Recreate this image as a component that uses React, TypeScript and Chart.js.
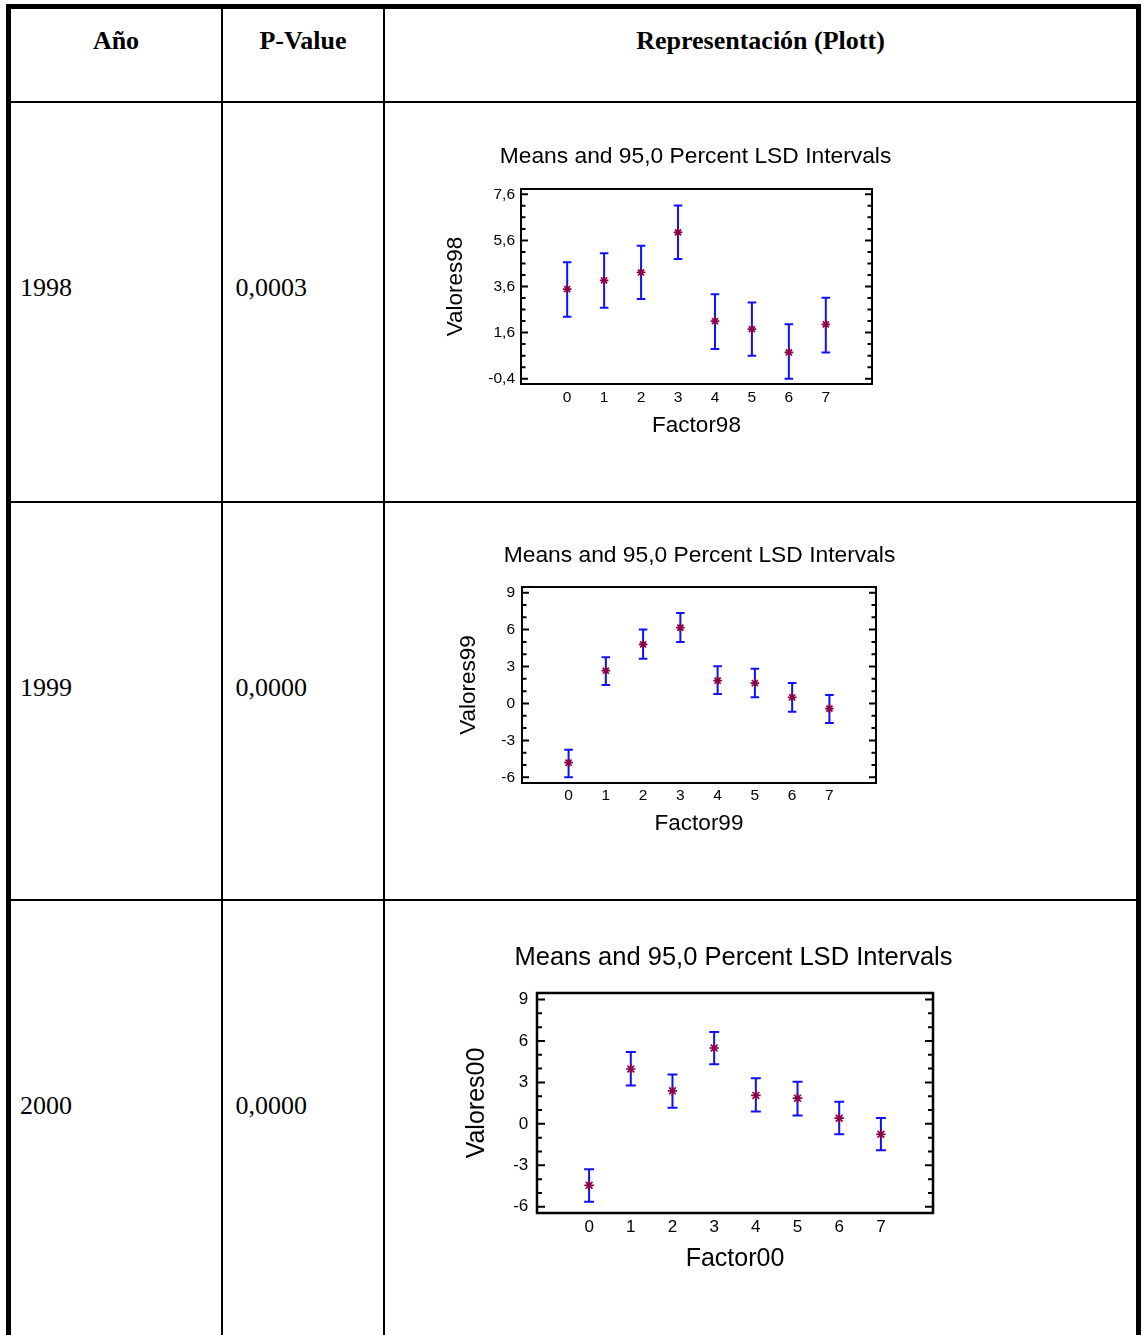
import React, { useEffect, useRef } from "react";
import { Chart, registerables } from "chart.js";

Chart.register(...registerables);

// ---------- data ----------
const years = ["1998", "1999", "2000"];
const pValues = ["0,0003", "0,0000", "0,0000"];
const headers = ["Año", "P-Value", "Representación (Plott)"];

const factorLevels = [0, 1, 2, 3, 4, 5, 6, 7];

const means98 = [3.49, 3.87, 4.21, 5.95, 2.1, 1.75, 0.74, 1.96];
const upper98 = [4.65, 5.04, 5.37, 7.11, 3.26, 2.91, 1.96, 3.11];
const lower98 = [2.29, 2.68, 3.06, 4.79, 0.89, 0.6, -0.4, 0.74];
const yTicks98 = [-0.4, 1.6, 3.6, 5.6, 7.6];

const means99 = [-4.81, 2.66, 4.8, 6.16, 1.85, 1.66, 0.5, -0.42];
const upper99 = [-3.75, 3.75, 6.0, 7.35, 3.02, 2.83, 1.66, 0.69];
const lower99 = [-6.0, 1.5, 3.64, 4.99, 0.77, 0.5, -0.67, -1.59];
const yTicks99 = [-6, -3, 0, 3, 6, 9];

const means00 = [-4.45, 3.97, 2.39, 5.49, 2.06, 1.86, 0.41, -0.75];
const upper00 = [-3.29, 5.2, 3.58, 6.65, 3.31, 3.05, 1.6, 0.43];
const lower00 = [-5.64, 2.78, 1.16, 4.31, 0.89, 0.6, -0.75, -1.91];
const yTicks00 = [-6, -3, 0, 3, 6, 9];

const chartTitle = "Means and 95,0 Percent LSD Intervals";

// ---------- layout / style ----------
type Spec = {
  xTitle: string;
  yTitle: string;
  means: number[];
  upper: number[];
  lower: number[];
  yTicks: number[];
  yMin: number;
  yMax: number;
  minorStep: number;
  decimals: number;
  canvas: { left: number; top: number; width: number; height: number };
  box: { left: number; top: number; right: number; bottom: number };
  titleY: number;
  yTitleX: number;
  xTitleY: number;
  xLabelY: number;
  yLabelGap: number;
  titleSize: number;
  axisSize: number;
  tickSize: number;
  frameWidth: number;
  majorLen: number;
  minorLen: number;
  capHalf: number;
  markerRadius: number;
};

const SANS = "'Liberation Sans', Arial, Helvetica, sans-serif";
const SERIF = "'Liberation Serif', 'Times New Roman', Times, serif";
const LH = 1.2;

const specs: Spec[] = [
  {
    xTitle: "Factor98",
    yTitle: "Valores98",
    means: means98,
    upper: upper98,
    lower: lower98,
    yTicks: yTicks98,
    yMin: -0.63,
    yMax: 7.83,
    minorStep: 0.5,
    decimals: 1,
    canvas: { left: 436, top: 128, width: 519, height: 320 },
    box: { left: 521, top: 189, right: 872, bottom: 384 },
    titleY: 157.2,
    yTitleX: 455.3,
    xTitleY: 425.8,
    xLabelY: 397.7,
    yLabelGap: 6,
    titleSize: 22.8,
    axisSize: 22.5,
    tickSize: 15.5,
    frameWidth: 2,
    majorLen: 7,
    minorLen: 4.5,
    capHalf: 4.3,
    markerRadius: 4.3,
  },
  {
    xTitle: "Factor99",
    yTitle: "Valores99",
    means: means99,
    upper: upper99,
    lower: lower99,
    yTicks: yTicks99,
    yMin: -6.46,
    yMax: 9.46,
    minorStep: 1,
    decimals: 0,
    canvas: { left: 440, top: 525, width: 519, height: 320 },
    box: { left: 522, top: 587, right: 876, bottom: 783 },
    titleY: 555.7,
    yTitleX: 469,
    xTitleY: 823.8,
    xLabelY: 795.8,
    yLabelGap: 7,
    titleSize: 22.8,
    axisSize: 22.5,
    tickSize: 15.5,
    frameWidth: 2,
    majorLen: 7,
    minorLen: 4.5,
    capHalf: 4.3,
    markerRadius: 4.3,
  },
  {
    xTitle: "Factor00",
    yTitle: "Valores00",
    means: means00,
    upper: upper00,
    lower: lower00,
    yTicks: yTicks00,
    yMin: -6.45,
    yMax: 9.47,
    minorStep: 1,
    decimals: 0,
    canvas: { left: 450, top: 925, width: 567, height: 360 },
    box: { left: 537, top: 993, right: 933, bottom: 1213 },
    titleY: 957.8,
    yTitleX: 477.5,
    xTitleY: 1258.8,
    xLabelY: 1227.8,
    yLabelGap: 8.7,
    titleSize: 25.5,
    axisSize: 25,
    tickSize: 17,
    frameWidth: 2.5,
    majorLen: 8,
    minorLen: 5,
    capHalf: 5,
    markerRadius: 4.8,
  },
];

function fmt(v: number, decimals: number) {
  return v.toFixed(decimals).replace(".", ",");
}

function LsdChart({ spec }: { spec: Spec }) {
  const ref = useRef<HTMLCanvasElement | null>(null);

  useEffect(() => {
    const canvas = ref.current;
    if (!canvas) return;
    const s = spec;
    const c = s.canvas;
    const cTop = c.top;
    const cLeft = c.left;
    const cBottom = c.top + c.height;
    const cRight = c.left + c.width;

    const titleLH = s.titleSize * LH;
    const axisLH = s.axisSize * LH;
    const tickLH = s.tickSize * LH;

    const titlePadTop = s.titleY - cTop - titleLH / 2;
    const titlePadBottom = s.box.top - cTop - titlePadTop - titleLH;
    const yAxisWidth = s.box.left - cLeft;
    const rightWidth = cRight - s.box.right;
    const xAxisHeight = cBottom - s.box.bottom;
    const yTitlePad = s.yTitleX - cLeft - axisLH / 2;
    const xTitlePad = cBottom - s.xTitleY - axisLH / 2;
    const xTickPad = s.xLabelY - s.box.bottom - tickLH / 2;

    const decor = {
      id: "lsdDecor",
      beforeDatasetsDraw(chart: any) {
        const { ctx } = chart;
        const x = chart.scales.x;
        const y = chart.scales.y;
        ctx.save();
        ctx.strokeStyle = "#1010FF";
        ctx.lineWidth = 2;
        s.means.forEach((_m, i) => {
          const px = x.getPixelForValue(factorLevels[i]);
          const pHi = y.getPixelForValue(s.upper[i]);
          const pLo = y.getPixelForValue(s.lower[i]);
          ctx.beginPath();
          ctx.moveTo(px, pHi);
          ctx.lineTo(px, pLo);
          ctx.moveTo(px - s.capHalf, pHi);
          ctx.lineTo(px + s.capHalf, pHi);
          ctx.moveTo(px - s.capHalf, pLo);
          ctx.lineTo(px + s.capHalf, pLo);
          ctx.stroke();
        });
        ctx.restore();
      },
      afterDraw(chart: any) {
        const { ctx, chartArea: ca } = chart;
        const y = chart.scales.y;
        ctx.save();
        ctx.strokeStyle = "#000000";
        const drawTick = (v: number, len: number) => {
          const py = y.getPixelForValue(v);
          ctx.beginPath();
          ctx.moveTo(ca.left, py);
          ctx.lineTo(ca.left + len, py);
          ctx.moveTo(ca.right, py);
          ctx.lineTo(ca.right - len, py);
          ctx.stroke();
        };
        ctx.lineWidth = 2;
        s.yTicks.forEach((v) => drawTick(v, s.majorLen));
        const first = s.yTicks[0];
        const eps = 1e-6;
        for (let k = -20; k < 200; k++) {
          const v = first + k * s.minorStep;
          if (v < s.yMin - eps || v > s.yMax + eps) continue;
          if (s.yTicks.some((t) => Math.abs(t - v) < eps)) continue;
          drawTick(v, s.minorLen);
        }
        ctx.lineWidth = s.frameWidth;
        ctx.strokeRect(ca.left, ca.top, ca.right - ca.left, ca.bottom - ca.top);
        ctx.restore();
      },
    };

    const chart = new Chart(canvas, {
      type: "scatter",
      data: {
        datasets: [
          {
            data: factorLevels.map((f, i) => ({ x: f, y: s.means[i] })),
            pointStyle: "star",
            radius: s.markerRadius,
            borderColor: "#8A0048",
            backgroundColor: "#8A0048",
            borderWidth: 1.7,
            showLine: false,
          } as any,
        ],
      },
      options: {
        animation: false,
        responsive: false,
        devicePixelRatio: 1,
        layout: { padding: 0 },
        plugins: {
          legend: { display: false },
          tooltip: { enabled: false },
          title: {
            display: true,
            text: chartTitle,
            fullSize: true,
            color: "#000000",
            font: { family: SANS, size: s.titleSize, weight: "normal", lineHeight: LH },
            padding: { top: titlePadTop, bottom: titlePadBottom },
          },
        },
        scales: {
          x: {
            type: "linear",
            position: "bottom",
            min: -1.25,
            max: 8.25,
            afterBuildTicks: (scale: any) => {
              scale.ticks = factorLevels.map((v) => ({ value: v }));
            },
            afterFit: (scale: any) => {
              scale.height = xAxisHeight;
              scale.paddingLeft = 0;
              scale.paddingRight = 0;
            },
            grid: { display: false, drawTicks: false },
            border: { display: false },
            ticks: {
              color: "#000000",
              padding: xTickPad,
              maxRotation: 0,
              autoSkip: false,
              font: { family: SANS, size: s.tickSize, lineHeight: LH },
              callback: (v: any) => String(v),
            },
            title: {
              display: true,
              text: s.xTitle,
              color: "#000000",
              font: { family: SANS, size: s.axisSize, lineHeight: LH },
              padding: { top: 0, bottom: xTitlePad },
            },
          },
          y: {
            type: "linear",
            position: "left",
            min: s.yMin,
            max: s.yMax,
            afterBuildTicks: (scale: any) => {
              scale.ticks = s.yTicks.map((v) => ({ value: v }));
            },
            afterFit: (scale: any) => {
              scale.width = yAxisWidth;
              scale.paddingTop = 0;
              scale.paddingBottom = 0;
            },
            grid: { display: false, drawTicks: false },
            border: { display: false },
            ticks: {
              color: "#000000",
              padding: s.yLabelGap,
              autoSkip: false,
              font: { family: SANS, size: s.tickSize, lineHeight: LH },
              callback: (v: any) => fmt(Number(v), s.decimals),
            },
            title: {
              display: true,
              text: s.yTitle,
              color: "#000000",
              font: { family: SANS, size: s.axisSize, lineHeight: LH },
              padding: { top: yTitlePad, bottom: 0 },
            },
          },
          yRight: {
            type: "linear",
            position: "right",
            min: s.yMin,
            max: s.yMax,
            afterFit: (scale: any) => {
              scale.width = rightWidth;
              scale.paddingTop = 0;
              scale.paddingBottom = 0;
            },
            grid: { display: false, drawTicks: false },
            border: { display: false },
            ticks: { display: false },
          },
        },
      },
      plugins: [decor],
    } as any);

    return () => chart.destroy();
  }, [spec]);

  return (
    <canvas
      ref={ref}
      width={spec.canvas.width}
      height={spec.canvas.height}
      style={{
        position: "absolute",
        left: spec.canvas.left,
        top: spec.canvas.top,
        width: spec.canvas.width,
        height: spec.canvas.height,
      }}
    />
  );
}

function Line({ l, t, w, h }: { l: number; t: number; w: number; h: number }) {
  return <div style={{ position: "absolute", left: l, top: t, width: w, height: h, background: "#000" }} />;
}

const TEXT_SIZE = 26;
const TEXT_LH = 30;
const BASELINE_OFFSET = 23.8;

function Txt({
  children,
  left,
  width,
  baseline,
  bold,
  center,
}: {
  children: React.ReactNode;
  left: number;
  width?: number;
  baseline: number;
  bold?: boolean;
  center?: boolean;
}) {
  return (
    <div
      style={{
        position: "absolute",
        left,
        width: width ?? 150,
        top: baseline - BASELINE_OFFSET,
        height: TEXT_LH,
        lineHeight: TEXT_LH + "px",
        fontFamily: SERIF,
        fontSize: TEXT_SIZE,
        fontWeight: bold ? "bold" : "normal",
        textAlign: center ? "center" : "left",
        whiteSpace: "nowrap",
        color: "#000",
      }}
    >
      {children}
    </div>
  );
}

const rowBaselines = [296.7, 696.7, 1115];

export default function App() {
  return (
    <div
      style={{
        position: "absolute",
        left: 0,
        top: 0,
        width: 1144,
        height: 1335,
        background: "#fff",
        overflow: "hidden",
      }}
    >
      {years.map((yr, i) => (
        <React.Fragment key={yr}>
          <Txt left={20} baseline={rowBaselines[i]}>
            {yr}
          </Txt>
          <Txt left={235.4} baseline={rowBaselines[i]}>
            {pValues[i]}
          </Txt>
        </React.Fragment>
      ))}

      {specs.map((s, i) => (
        <LsdChart key={i} spec={s} />
      ))}

      {/* header */}
      <Txt left={11} width={210} baseline={50} bold center>
        {headers[0]}
      </Txt>
      <Txt left={223} width={160} baseline={50} bold center>
        {headers[1]}
      </Txt>
      <Txt left={385} width={751} baseline={50} bold center>
        {headers[2]}
      </Txt>

      {/* borders */}
      <Line l={6} t={4} w={1135} h={5} />
      <Line l={6} t={4} w={5} h={1331} />
      <Line l={1136} t={4} w={5} h={1331} />
      <Line l={221} t={9} w={2} h={1326} />
      <Line l={383} t={9} w={2} h={1326} />
      <Line l={11} t={101} w={1125} h={2} />
      <Line l={11} t={501} w={1125} h={2} />
      <Line l={11} t={899} w={1125} h={2} />
    </div>
  );
}
